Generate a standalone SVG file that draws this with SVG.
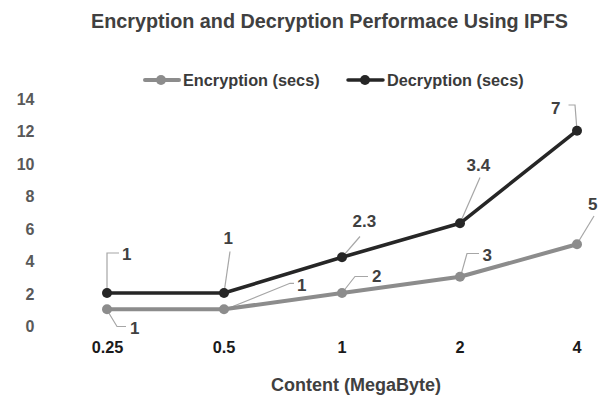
<svg xmlns="http://www.w3.org/2000/svg" width="603" height="396" viewBox="0 0 603 396">
  <style>
    text { font-family: "Liberation Sans", Arial, sans-serif; font-weight: bold; }
    .title { font-size: 19.8px; fill: #404040; }
    .legend { font-size: 16.3px; fill: #3a3a3a; }
    .ytick { font-size: 16px; fill: #595959; text-anchor: end; }
    .xtick { font-size: 16.3px; fill: #1a1a1a; text-anchor: middle; }
    .axis-title { font-size: 18px; fill: #404040; text-anchor: middle; }
    .dlabel { font-size: 17px; fill: #404040; }
    .enc { fill: none; stroke: #8c8c8c; stroke-width: 4; stroke-linejoin: round; stroke-linecap: round; }
    .dec { fill: none; stroke: #262626; stroke-width: 3.5; stroke-linejoin: round; stroke-linecap: round; }
    .enc-dot { fill: #8c8c8c; }
    .dec-dot { fill: #262626; }
    .leader { fill: none; stroke: #a6a6a6; stroke-width: 1.2; }
  </style>
  <rect width="603" height="396" fill="#ffffff"/>

  <g id="title">
    <text class="title" x="91" y="27.7">Encryption and Decryption Performace Using IPFS</text>
  </g>

  <g id="legend">
    <g id="legend-encryption">
      <line class="enc" x1="145" y1="80" x2="179" y2="80"/>
      <circle class="enc-dot" cx="161" cy="80" r="5"/>
      <text class="legend" x="183" y="86">Encryption (secs)</text>
    </g>
    <g id="legend-decryption">
      <line class="dec" x1="348" y1="80" x2="383" y2="80"/>
      <circle class="dec-dot" cx="365" cy="80" r="5"/>
      <text class="legend" x="387" y="86">Decryption (secs)</text>
    </g>
  </g>

  <g id="y-axis">
    <text class="ytick" x="34.5" y="104.5">14</text>
    <text class="ytick" x="34.5" y="137">12</text>
    <text class="ytick" x="34.5" y="169.5">10</text>
    <text class="ytick" x="34.5" y="202">8</text>
    <text class="ytick" x="34.5" y="234.5">6</text>
    <text class="ytick" x="34.5" y="267">4</text>
    <text class="ytick" x="34.5" y="299.5">2</text>
    <text class="ytick" x="34.5" y="332">0</text>
  </g>

  <g id="x-axis">
    <text class="xtick" x="107.5" y="352.5">0.25</text>
    <text class="xtick" x="224" y="352.5">0.5</text>
    <text class="xtick" x="342" y="352.5">1</text>
    <text class="xtick" x="460" y="352.5">2</text>
    <text class="xtick" x="577" y="352.5">4</text>
    <text class="axis-title" x="356" y="391">Content (MegaByte)</text>
  </g>

  <g id="connectors">
    <g id="leaders">
      <polyline class="leader" points="107,293 107,253 119,253"/>
      <polyline class="leader" points="107,310 117,326.5 126,326.5"/>
      <polyline class="leader" points="224,293 230,251.5"/>
      <polyline class="leader" points="224,310 290,283.3 294,283.3"/>
      <polyline class="leader" points="342,257.3 360,236.5"/>
      <polyline class="leader" points="342,293 355,276.5 368,276.5"/>
      <polyline class="leader" points="460,223.3 480,177.5"/>
      <polyline class="leader" points="460,278.3 467,253.5 479,253.5"/>
      <polyline class="leader" points="577,130.7 575,105 568.5,105"/>
      <polyline class="leader" points="577,244 594,216"/>
    </g>
    <polyline id="series-encryption" class="enc" points="107,309.3 224,309.3 342,293 460,276.8 577,244.3"/>
    <polyline id="series-decryption" class="dec" points="107,293 224,293 342,257.3 460,223.3 577,130.7"/>
  </g>

  <g id="points-encryption">
    <circle class="enc-dot" cx="107" cy="309.3" r="5"/>
    <circle class="enc-dot" cx="224" cy="309.3" r="5"/>
    <circle class="enc-dot" cx="342" cy="293" r="5"/>
    <circle class="enc-dot" cx="460" cy="276.8" r="5"/>
    <circle class="enc-dot" cx="577" cy="244.3" r="5"/>
  </g>
  <g id="points-decryption">
    <circle class="dec-dot" cx="107" cy="293" r="5"/>
    <circle class="dec-dot" cx="224" cy="293" r="5"/>
    <circle class="dec-dot" cx="342" cy="257.3" r="5"/>
    <circle class="dec-dot" cx="460" cy="223.3" r="5"/>
    <circle class="dec-dot" cx="577" cy="130.7" r="5"/>
  </g>

  <g id="data-labels">
    <text class="dlabel" x="122" y="259.5">1</text>
    <text class="dlabel" x="130" y="333.5">1</text>
    <text class="dlabel" x="223.5" y="244">1</text>
    <text class="dlabel" x="297" y="291">1</text>
    <text class="dlabel" x="352.5" y="227">2.3</text>
    <text class="dlabel" x="372" y="282">2</text>
    <text class="dlabel" x="466.5" y="170.5">3.4</text>
    <text class="dlabel" x="482.5" y="260.5">3</text>
    <text class="dlabel" x="551" y="114">7</text>
    <text class="dlabel" x="588" y="210">5</text>
  </g>
</svg>
